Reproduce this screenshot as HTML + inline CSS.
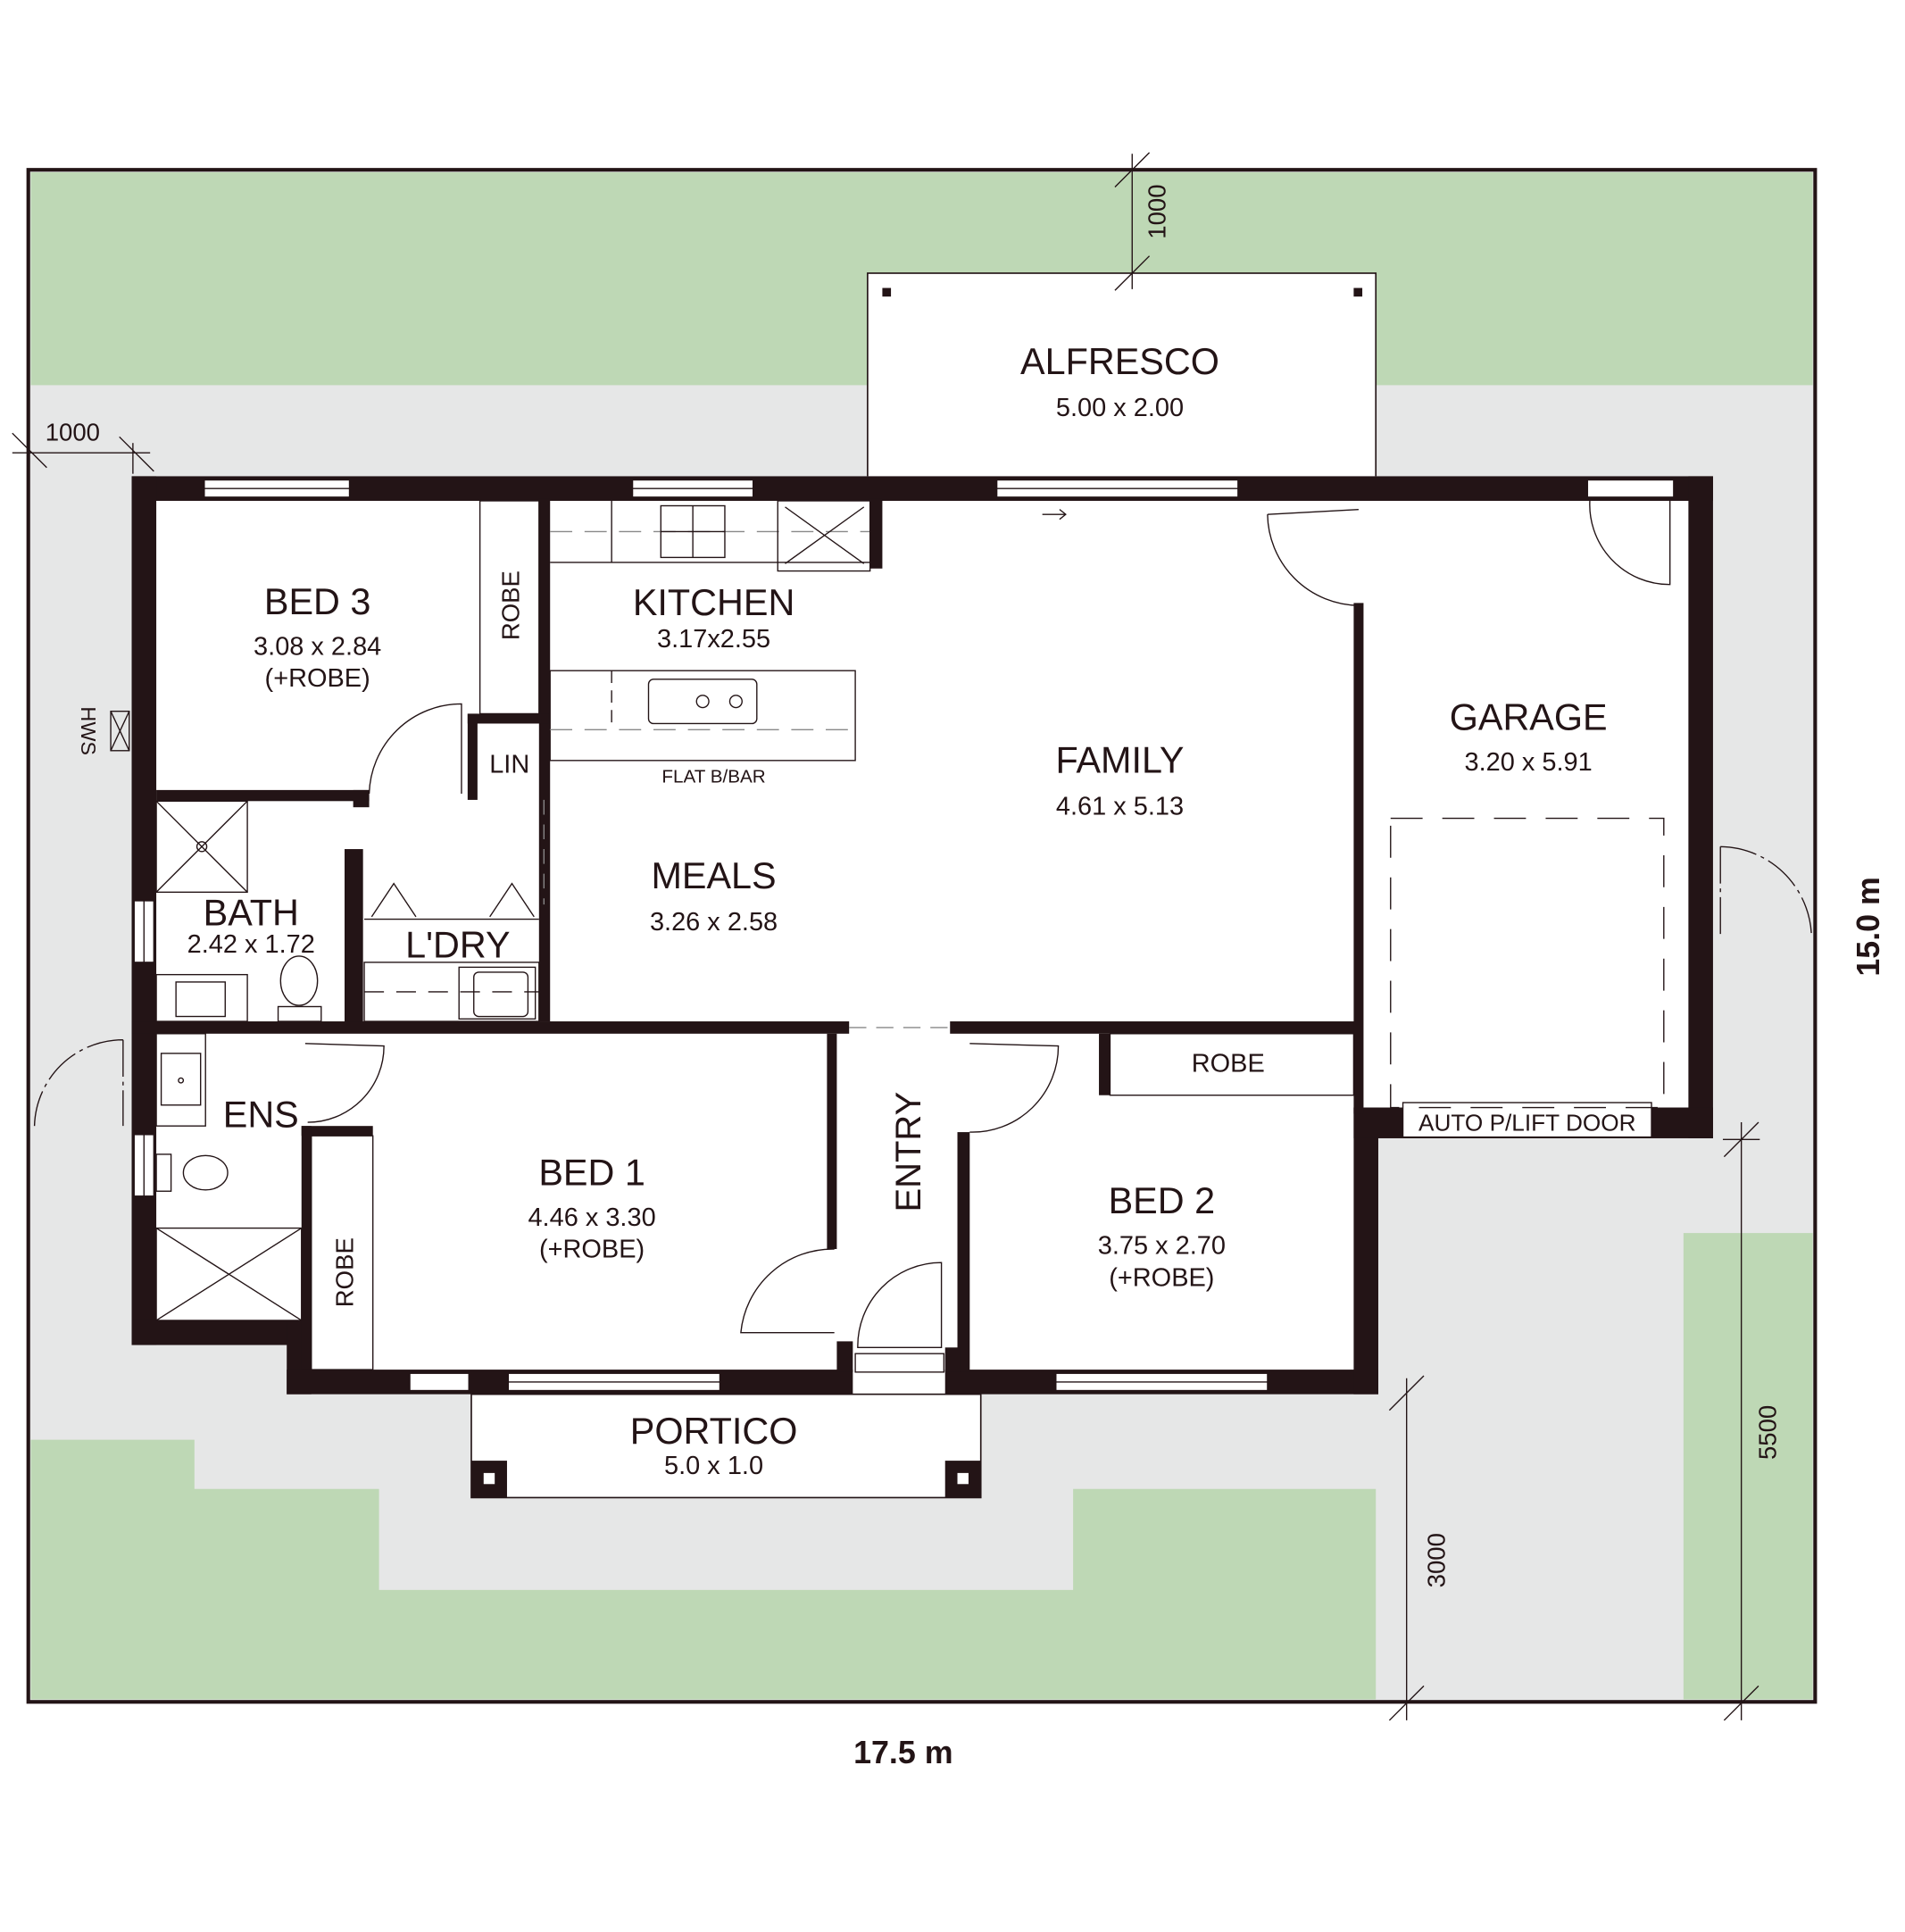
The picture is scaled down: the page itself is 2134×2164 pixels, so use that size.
<!DOCTYPE html>
<html><head><meta charset="utf-8"><style>
html,body{margin:0;padding:0;background:#fff}
svg{display:block}
text{font-family:"Liberation Sans",sans-serif;fill:#231416}
</style></head><body>
<svg width="2134" height="2164" viewBox="0 0 1548 1570" preserveAspectRatio="none" xmlns="http://www.w3.org/2000/svg">
<!-- lot -->
<rect x="23" y="138" width="1452" height="1245" fill="#e6e7e7"/>
<rect x="25" y="140" width="1448" height="173" fill="#bed8b5"/>
<polygon points="25,1170 158,1170 158,1210 308,1210 308,1292 872,1292 872,1210 1118,1210 1118,1381 25,1381" fill="#bed8b5"/>
<rect x="1368" y="1002" width="105" height="379" fill="#bed8b5"/>
<rect x="23" y="138" width="1452" height="1245" fill="none" stroke="#231416" stroke-width="3"/>

<!-- alfresco -->
<rect x="705" y="222" width="413" height="168" fill="#fff" stroke="#231416" stroke-width="1.2"/>
<rect x="717" y="234" width="7" height="7" fill="#231416"/>
<rect x="1100" y="234" width="7" height="7" fill="#231416"/>
<text x="910" y="304" font-size="30" text-anchor="middle">ALFRESCO</text>
<text x="910" y="338" font-size="21" text-anchor="middle">5.00 x 2.00</text>

<!-- house interior -->
<polygon points="107,387 1392,387 1392,925 1120,925 1120,1133 233,1133 233,1093 107,1093" fill="#fff"/>

<!-- portico -->
<rect x="383" y="1133" width="414" height="84" fill="#fff" stroke="#231416" stroke-width="1.2"/>
<rect x="383" y="1187" width="29" height="30" fill="#231416"/><rect x="393" y="1197" width="9" height="9" fill="#fff"/>
<rect x="768" y="1187" width="29" height="30" fill="#231416"/><rect x="778" y="1197" width="9" height="9" fill="#fff"/>
<text x="580" y="1173" font-size="30" text-anchor="middle">PORTICO</text>
<text x="580" y="1198" font-size="21" text-anchor="middle">5.0 x 1.0</text>

<g fill="#231416">
<!-- outer walls -->
<rect x="107" y="387" width="1285" height="20"/>
<rect x="107" y="387" width="20" height="706"/>
<rect x="107" y="1073" width="138" height="20"/>
<rect x="233" y="1073" width="20" height="60"/>
<rect x="233" y="1113" width="460" height="20"/>
<rect x="768" y="1113" width="352" height="20"/>
<rect x="1100" y="900" width="20" height="233"/>
<rect x="1372" y="387" width="20" height="538"/>
<rect x="1100" y="900" width="292" height="25"/>
<!-- interior walls -->
<rect x="127" y="642" width="173" height="9"/>
<rect x="287" y="642" width="13" height="14"/>
<rect x="438" y="405" width="9" height="425"/>
<rect x="380" y="580" width="66" height="8"/>
<rect x="380" y="580" width="8" height="70"/>
<rect x="280" y="690" width="15" height="145"/>
<rect x="107" y="830" width="583" height="10"/>
<rect x="772" y="830" width="330" height="10"/>
<rect x="1100" y="490" width="8" height="415"/>
<rect x="707" y="405" width="10" height="57"/>
<rect x="245" y="915" width="58" height="8"/>
<rect x="245" y="915" width="8" height="198"/>
<rect x="672" y="840" width="8" height="175"/>
<rect x="778" y="920" width="10" height="195"/>
<rect x="893" y="840" width="9" height="50"/>
<rect x="680" y="1090" width="13" height="25"/>
<rect x="768" y="1095" width="12" height="20"/>
</g>

<!-- windows (white inserts) -->
<g fill="#fff" stroke="#231416" stroke-width="1">
<rect x="166" y="390" width="118" height="14"/>
<rect x="514" y="390" width="98" height="14"/>
<rect x="810" y="390" width="196" height="14"/>
<rect x="1290" y="390" width="70" height="14"/>
<rect x="109" y="732" width="16" height="50"/>
<rect x="109" y="922" width="16" height="50"/>
<rect x="333" y="1116" width="48" height="14"/>
<rect x="413" y="1116" width="172" height="14"/>
<rect x="858" y="1116" width="172" height="14"/>
<rect x="1140" y="896" width="202" height="28"/>
<rect x="695" y="1100" width="72" height="15"/>
</g>
<g stroke="#231416" stroke-width="1" fill="none">
<line x1="166" y1="397" x2="284" y2="397"/><line x1="514" y1="397" x2="612" y2="397"/>
<line x1="810" y1="397" x2="1006" y2="397"/><line x1="413" y1="1123" x2="585" y2="1123"/>
<line x1="858" y1="1123" x2="1030" y2="1123"/><line x1="117" y1="732" x2="117" y2="782"/><line x1="117" y1="922" x2="117" y2="972"/>
<!-- gaps dashed -->
<line x1="442" y1="650" x2="442" y2="735" stroke-dasharray="12,8" stroke="#888"/>
<line x1="690" y1="835" x2="772" y2="835" stroke-dasharray="14,8" stroke="#888"/>
<!-- doors -->
<path d="M300,645 A75,75 0 0 1 375,572 L375,645"/>
<path d="M1030,418 A75,75 0 0 0 1104,492"/><line x1="1030" y1="418" x2="1104" y2="414"/>
<path d="M1292,405 A65,65 0 0 0 1357,475 L1357,405"/>
<path d="M1398,688 L1398,760 M1398,688 A75,75 0 0 1 1472,760" stroke-dasharray="30,4,3,4"/>
<path d="M100,845 L100,915 M100,845 A72,72 0 0 0 28,915" stroke-dasharray="30,4,3,4"/>
<path d="M248,848 L312,850 A62,62 0 0 1 250,912"/>
<path d="M788,848 L860,850 A70,70 0 0 1 788,920"/>
<path d="M678,1015 A75,75 0 0 0 602,1083 L678,1083"/>
<path d="M765,1026 A68,68 0 0 0 697,1095 L765,1095 Z"/>
<!-- garage car outline -->
<rect x="1130" y="665" width="222" height="235" stroke-dasharray="26,16"/>
<!-- kitchen -->
<rect x="447" y="545" width="248" height="73"/>
<line x1="447" y1="593" x2="695" y2="593" stroke-dasharray="18,10" stroke="#888"/>
<line x1="447" y1="432" x2="707" y2="432" stroke-dasharray="18,10" stroke="#888"/>
<line x1="497" y1="407" x2="497" y2="457"/><line x1="447" y1="457" x2="707" y2="457"/>
<rect x="537" y="411" width="52" height="42"/>
<line x1="563" y1="411" x2="563" y2="453"/><line x1="537" y1="432" x2="589" y2="432"/>
<rect x="632" y="407" width="75" height="57"/>
<line x1="638" y1="412" x2="702" y2="458"/><line x1="702" y1="412" x2="638" y2="458"/>
<rect x="527" y="552" width="88" height="36" rx="4"/>
<circle cx="571" cy="570" r="5"/><circle cx="598" cy="570" r="5"/>
<line x1="497" y1="545" x2="497" y2="593" stroke-dasharray="10,6"/>
<!-- bath -->
<rect x="127" y="651" width="74" height="74"/><line x1="127" y1="651" x2="201" y2="725"/><line x1="201" y1="651" x2="127" y2="725"/>
<circle cx="164" cy="688" r="4"/>
<rect x="127" y="792" width="74" height="38"/><rect x="143" y="798" width="40" height="28"/>
<ellipse cx="243" cy="797" rx="15" ry="20"/><rect x="226" y="818" width="35" height="12"/>
<!-- laundry -->
<path d="M302,745 L320,718 L338,745 M398,745 L416,718 L434,745"/>
<line x1="296" y1="747" x2="438" y2="747"/>
<rect x="296" y="782" width="142" height="48"/><rect x="373" y="786" width="62" height="42"/><rect x="385" y="790" width="44" height="36" rx="4"/>
<line x1="296" y1="806" x2="438" y2="806" stroke-dasharray="16,10"/>
<!-- ens -->
<rect x="127" y="840" width="40" height="75"/><rect x="131" y="856" width="32" height="42"/><circle cx="147" cy="878" r="2"/>
<ellipse cx="167" cy="953" rx="18" ry="14"/><rect x="127" y="938" width="12" height="30"/>
<rect x="127" y="998" width="118" height="75"/><line x1="127" y1="998" x2="245" y2="1073"/><line x1="245" y1="998" x2="127" y2="1073"/>
<!-- robes -->
<rect x="390" y="407" width="48" height="173"/>
<rect x="253" y="923" width="50" height="190"/>
<rect x="902" y="840" width="198" height="50"/>
<!-- HWS -->
<rect x="90" y="578" width="15" height="32"/><line x1="90" y1="578" x2="105" y2="610"/><line x1="105" y1="578" x2="90" y2="610"/>
<!-- dimension lines -->
<line x1="10" y1="368" x2="122" y2="368"/><line x1="10" y1="352" x2="38" y2="380"/><line x1="97" y1="355" x2="125" y2="383"/>
<line x1="108" y1="360" x2="108" y2="385"/>
<line x1="920" y1="125" x2="920" y2="235"/><line x1="906" y1="152" x2="934" y2="124"/><line x1="906" y1="236" x2="934" y2="208"/>
<line x1="1143" y1="1120" x2="1143" y2="1398"/><line x1="1129" y1="1146" x2="1157" y2="1118"/><line x1="1129" y1="1398" x2="1157" y2="1370"/>
<line x1="1415" y1="912" x2="1415" y2="1398"/><line x1="1401" y1="940" x2="1429" y2="912"/><line x1="1401" y1="1398" x2="1429" y2="1370"/>
<line x1="1400" y1="926" x2="1430" y2="926"/>
<path d="M847,418 L866,418 M861,414 L866,418 L861,422"/>
</g>

<!-- labels -->
<g text-anchor="middle">
<text x="258" y="499" font-size="30">BED 3</text>
<text x="258" y="532" font-size="21">3.08 x 2.84</text>
<text x="258" y="558" font-size="21">(+ROBE)</text>
<text x="580" y="500" font-size="30">KITCHEN</text>
<text x="580" y="526" font-size="21">3.17x2.55</text>
<text x="580" y="636" font-size="15">FLAT B/BAR</text>
<text x="414" y="628" font-size="21">LIN</text>
<text x="910" y="628" font-size="30">FAMILY</text>
<text x="910" y="662" font-size="21">4.61 x 5.13</text>
<text x="580" y="722" font-size="30">MEALS</text>
<text x="580" y="756" font-size="21">3.26 x 2.58</text>
<text x="1242" y="593" font-size="30">GARAGE</text>
<text x="1242" y="626" font-size="21">3.20 x 5.91</text>
<text x="204" y="752" font-size="30">BATH</text>
<text x="204" y="774" font-size="21">2.42 x 1.72</text>
<text x="372" y="778" font-size="30">L'DRY</text>
<text x="212" y="916" font-size="30">ENS</text>
<text x="481" y="963" font-size="30">BED 1</text>
<text x="481" y="996" font-size="21">4.46 x 3.30</text>
<text x="481" y="1022" font-size="21">(+ROBE)</text>
<text x="944" y="986" font-size="30">BED 2</text>
<text x="944" y="1019" font-size="21">3.75 x 2.70</text>
<text x="944" y="1045" font-size="21">(+ROBE)</text>
<text x="998" y="871" font-size="21">ROBE</text>
<text x="1241" y="919" font-size="19">AUTO P/LIFT DOOR</text>
<text x="59" y="358" font-size="20">1000</text>
<text x="734" y="1433" font-size="26" font-weight="bold">17.5 m</text>
</g>
<text transform="translate(422,492) rotate(-90)" font-size="20" text-anchor="middle">ROBE</text>
<text transform="translate(287,1034) rotate(-90)" font-size="20" text-anchor="middle">ROBE</text>
<text transform="translate(748,936) rotate(-90)" font-size="29" text-anchor="middle">ENTRY</text>
<text transform="translate(66,594) rotate(90)" font-size="17" text-anchor="middle">HWS</text>
<text transform="translate(947,172) rotate(-90)" font-size="20" text-anchor="middle">1000</text>
<text transform="translate(1174,1268) rotate(-90)" font-size="20" text-anchor="middle">3000</text>
<text transform="translate(1443,1164) rotate(-90)" font-size="20" text-anchor="middle">5500</text>
<text transform="translate(1527,753) rotate(-90)" font-size="26" font-weight="bold" text-anchor="middle">15.0 m</text>
</svg>
</body></html>
